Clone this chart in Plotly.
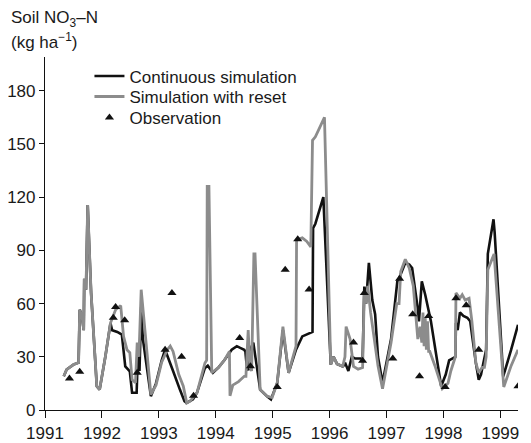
import plotly.graph_objects as go

# Continuous simulation (black)
cont_t = [1991.33, 1991.38, 1991.50, 1991.59, 1991.61, 1991.65, 1991.68, 1991.69, 1991.72, 1991.75,
          1991.78, 1991.81, 1991.91, 1991.96, 1992.06, 1992.15, 1992.18, 1992.27, 1992.35, 1992.41,
          1992.49, 1992.53, 1992.61, 1992.63, 1992.66, 1992.69, 1992.72, 1992.86, 1992.95, 1993.05,
          1993.11, 1993.16, 1993.25, 1993.37, 1993.45, 1993.49, 1993.60, 1993.67, 1993.81, 1993.86,
          1993.95, 1994.05, 1994.15, 1994.28, 1994.37, 1994.43, 1994.50, 1994.52, 1994.55, 1994.58,
          1994.62, 1994.66, 1994.78, 1994.90, 1994.97, 1995.08, 1995.18, 1995.28, 1995.41, 1995.52,
          1995.62, 1995.70, 1995.71, 1995.75, 1995.89, 1996.02, 1996.07, 1996.13, 1996.23, 1996.28,
          1996.33, 1996.39, 1996.45, 1996.52, 1996.58, 1996.61, 1996.64, 1996.69, 1996.75, 1996.80,
          1996.85, 1996.93, 1997.08, 1997.19, 1997.23, 1997.33, 1997.40, 1997.45, 1997.51, 1997.55,
          1997.57, 1997.62, 1997.68, 1997.74, 1997.78, 1997.96, 1998.04, 1998.10, 1998.21, 1998.22,
          1998.25, 1998.29, 1998.35, 1998.42, 1998.47, 1998.57, 1998.62, 1998.66, 1998.70, 1998.75,
          1998.78, 1998.88, 1998.90, 1999.05, 1999.19, 1999.31]
cont_v = [19, 22.8, 25.6, 26.7, 56.5, 52.8, 45, 74, 67.8, 115.6,
          90, 66, 13.4, 11.5, 30, 49, 45, 44, 42.5, 24.6,
          21.8, 9.7, 9.7, 30, 22, 58, 40, 7.8, 15, 28,
          34, 30, 22, 11.5, 5, 4, 6, 9.7, 23.7, 25,
          21, 24, 28, 34, 36, 35, 34, 33, 22.8, 23,
          35, 38, 11.5, 7.8, 6, 15.3, 45, 21, 34, 41.5,
          43, 44, 102.5, 105, 120, 25.6, 30, 26, 24.6, 26,
          22, 30, 29, 29, 29, 69.6, 60, 83, 62, 54,
          30, 15.3, 40, 72.5, 75, 83, 82, 80, 67.8, 57,
          50, 72.5, 65, 56, 50, 13.4, 20, 28, 30, 49,
          45, 55, 53, 52, 50, 26.5, 17, 20, 26, 34,
          88, 107.5, 100, 19, 34, 48]

# Simulation with reset (grey)
reset_t = [1991.33, 1991.38, 1991.50, 1991.59, 1991.61, 1991.65, 1991.68, 1991.69, 1991.72, 1991.75,
           1991.78, 1991.81, 1991.91, 1991.96, 1992.06, 1992.15, 1992.24, 1992.33, 1992.38, 1992.44,
           1992.49, 1992.53, 1992.59, 1992.62, 1992.65, 1992.69, 1992.86, 1992.95, 1993.05, 1993.15,
           1993.20, 1993.25, 1993.35, 1993.43, 1993.49, 1993.55, 1993.67, 1993.81, 1993.84, 1993.85,
           1993.88, 1993.93, 1994.05, 1994.15, 1994.24, 1994.25, 1994.30, 1994.40, 1994.50, 1994.53,
           1994.57, 1994.60, 1994.63, 1994.67, 1994.69, 1994.78, 1994.90, 1994.99, 1995.08, 1995.18,
           1995.28, 1995.41, 1995.42, 1995.52, 1995.60, 1995.67, 1995.70, 1995.75, 1995.91, 1996.02,
           1996.07, 1996.13, 1996.23, 1996.27, 1996.29, 1996.36, 1996.42, 1996.50, 1996.58, 1996.61,
           1996.64, 1996.67, 1996.72, 1996.85, 1996.93, 1997.08, 1997.18, 1997.22, 1997.25, 1997.33,
           1997.40, 1997.47, 1997.51, 1997.55, 1997.59, 1997.62, 1997.64, 1997.66, 1997.68, 1997.70,
           1997.72, 1997.74, 1997.76, 1997.85, 1997.98, 1998.08, 1998.13, 1998.21, 1998.22, 1998.29,
           1998.33, 1998.38, 1998.45, 1998.50, 1998.57, 1998.62, 1998.68, 1998.72, 1998.75, 1998.78,
           1998.89, 1999.06, 1999.19, 1999.31]
reset_v = [19, 22.8, 25.6, 26.7, 56.5, 52.8, 45, 74, 67.8, 115.6,
           90, 66, 13.4, 11.5, 30, 49, 56.5, 58.8, 41.5, 34,
           32.3, 17, 15.4, 38, 30, 67.8, 8.7, 14, 27, 34,
           36, 33, 20, 13.4, 4, 5, 9.7, 26.5, 28, 126,
           126, 21, 24, 28, 33, 8, 14, 16, 19, 19,
           45, 24, 22, 88, 88, 11.5, 7.8, 7, 15.3, 47,
           21, 36, 96, 97, 95, 92, 152, 154, 165, 25.6,
           30, 26, 24.6, 30, 47, 40, 24.6, 23, 24, 67,
           60, 70, 55, 25, 12, 38, 60, 60, 78, 85,
           80, 70, 55, 40, 47, 38, 55, 36, 52, 34,
           50, 33, 33, 25, 12, 15, 22, 30, 66, 63,
           65, 62, 63, 50, 26.5, 21, 24, 24, 30, 79,
           88, 13, 25, 34]

# Observations
obs_t = [1991.43, 1991.61, 1992.20, 1992.24, 1992.40, 1992.62, 1993.11, 1993.23, 1993.40, 1993.61,
         1994.42, 1994.61, 1995.08, 1995.22, 1995.44, 1995.64, 1996.42, 1996.58, 1996.61, 1997.11,
         1997.23, 1997.46, 1997.58, 1997.74, 1998.03, 1998.22, 1998.40, 1998.62, 1999.31]
obs_v = [17.8, 21.6, 52, 58, 50.6, 21, 34, 66, 30, 8,
         40.6, 24.6, 13, 79, 96.3, 68, 38, 27.8, 66, 29,
         74, 54, 19, 53, 13, 63, 59, 34, 13.4]

year_ticks = [1991, 1992, 1993, 1994, 1995, 1996, 1997, 1998, 1999]
value_ticks = [0, 30, 60, 90, 120, 150, 180]

FONT = "Liberation Sans, Arial, sans-serif"
TXT = "#1a1a1a"

# figure is drawn inside the page's default 8px body margin
W, H = 523, 435
ML, MR, MT, MB = 36.5, 13, 49, 32.5
PW, PH = W - ML - MR, H - MT - MB


def px_x(x):
    return (x - ML) / PW


def px_y(y):
    return (H - MB - y) / PH


fig = go.Figure()
fig.add_trace(go.Scatter(x=cont_t, y=cont_v, mode="lines", name="Continuous simulation",
                         line=dict(color="#111111", width=2.6), legend="legend"))
fig.add_trace(go.Scatter(x=reset_t, y=reset_v, mode="lines", name="Simulation with reset",
                         line=dict(color="#8c8c8c", width=2.8), legend="legend2"))
fig.add_trace(go.Scatter(x=obs_t, y=obs_v, mode="markers", name="Observation",
                         marker=dict(symbol="triangle-up", size=8, color="#111111"), legend="legend3"))

leg_common = dict(xanchor="left", yanchor="middle", bgcolor="rgba(0,0,0,0)", itemwidth=30,
                  font=dict(family=FONT, size=17, color=TXT), borderwidth=0)
LEG_X = px_x(81)

fig.update_layout(
    width=W, height=H,
    margin=dict(l=ML, r=MR, t=MT, b=MB, autoexpand=False),
    paper_bgcolor="white", plot_bgcolor="white",
    font=dict(family=FONT, size=17, color=TXT),
    showlegend=True,
    legend=dict(x=LEG_X, y=px_y(68.5), **leg_common),
    legend2=dict(x=LEG_X, y=px_y(89), **leg_common),
    legend3=dict(x=LEG_X, y=px_y(110), **leg_common),
    xaxis=dict(range=[1991, 1999.31], tickvals=year_ticks, ticktext=[str(y) for y in year_ticks],
               showline=True, linecolor="#111111", linewidth=1.2, showgrid=False, zeroline=False,
               ticks="outside", ticklen=7, tickcolor="#111111", tickwidth=1.2, automargin=False),
    yaxis=dict(range=[0, 199], tickvals=value_ticks,
               showline=True, linecolor="#111111", linewidth=1.2, showgrid=False, zeroline=False,
               ticks="outside", ticklen=5, tickcolor="#111111", tickwidth=1.2, automargin=False),
)

fig.add_annotation(text="Soil NO<sub>3</sub>–N", xref="paper", yref="paper",
                   x=px_x(0), y=px_y(11), xanchor="left", yanchor="middle",
                   showarrow=False, font=dict(family=FONT, size=17, color=TXT))
fig.add_annotation(text="(kg ha<sup>−1</sup>)", xref="paper", yref="paper",
                   x=px_x(0), y=px_y(33), xanchor="left", yanchor="middle",
                   showarrow=False, font=dict(family=FONT, size=17, color=TXT))

fig.write_html("out.html")
